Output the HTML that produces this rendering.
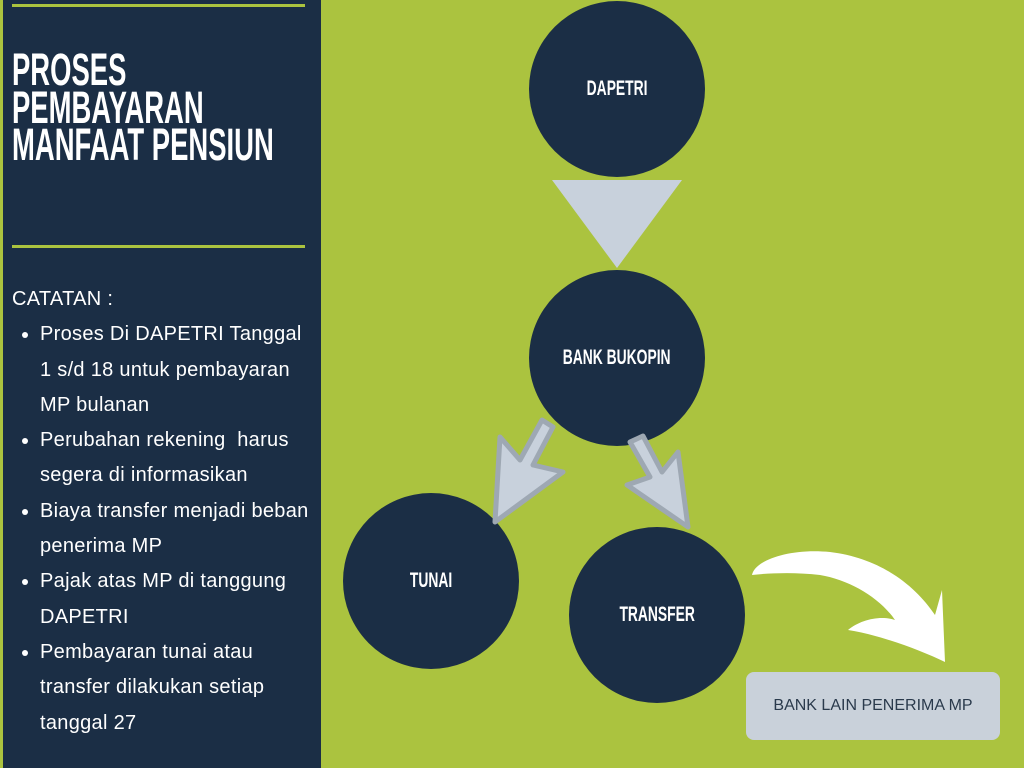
<!DOCTYPE html>
<html><head><meta charset="utf-8"><style>
body{margin:0;width:1024px;height:768px;overflow:hidden;background:#abc33f;position:relative;font-family:"Liberation Sans",sans-serif}
#panel{position:absolute;left:3px;top:0;width:318px;height:768px;background:#1b2e45}
.line{position:absolute;left:12px;width:293px;height:3px;background:#abc33f}
#title{position:absolute;left:12px;top:51px;color:#fff;font-family:"Liberation Sans",sans-serif;font-weight:bold;font-size:45px;line-height:37.5px;transform-origin:0 0;transform:scaleX(0.61);white-space:nowrap}
#notes{position:absolute;left:12px;top:282px;color:#fff;font-size:20px;letter-spacing:0.3px;line-height:35.3px}
#notes ul{margin:0;padding-left:28px}
#notes li{width:275px}
.c{position:absolute;width:176px;height:176px;border-radius:50%;background:#1b2e45;color:#fff;display:flex;align-items:center;justify-content:center;font-weight:bold;font-size:21px}
.c span{display:inline-block;transform:scaleX(0.66);white-space:nowrap}
#box{position:absolute;left:746px;top:672px;width:254px;height:68px;background:#c9d1da;border-radius:8px;color:#2a3a4c;font-size:16px;display:flex;align-items:center;justify-content:center}
</style></head><body>
<div id="panel"></div>
<div class="line" style="top:4px"></div>
<div class="line" style="top:245px"></div>
<div id="title">PROSES<br>PEMBAYARAN<br>MANFAAT PENSIUN</div>
<div id="notes">CATATAN :
<ul>
<li>Proses Di DAPETRI Tanggal 1 s/d 18 untuk pembayaran MP bulanan</li>
<li>Perubahan rekening&nbsp; harus segera di informasikan</li>
<li>Biaya transfer menjadi beban penerima MP</li>
<li>Pajak atas MP di tanggung DAPETRI</li>
<li>Pembayaran tunai atau transfer dilakukan setiap tanggal 27</li>
</ul></div>
<div class="c" style="left:529px;top:1px"><span>DAPETRI</span></div>
<div class="c" style="left:529px;top:270px"><span>BANK BUKOPIN</span></div>
<div class="c" style="left:343px;top:493px"><span>TUNAI</span></div>
<div class="c" style="left:569px;top:527px"><span>TRANSFER</span></div>
<svg width="1024" height="768" style="position:absolute;left:0;top:0">
<polygon points="552,180 682,180 617,268" fill="#c8d1dc"/>
<polygon points="542,420 553,427 533,465 563,472 495,522 500,437 520,460" fill="#c8d1dc" stroke="#9ea8b3" stroke-width="5" stroke-linejoin="round"/>
<polygon points="630,442 643,436 662,472 678,452 688,527 627,485 650,477" fill="#c8d1dc" stroke="#9ea8b3" stroke-width="5" stroke-linejoin="round"/>
<path d="M752,575 C755,560 790,548 830,552 C880,558 915,585 935,615 L942,590 L945,662 C920,650 880,635 848,630 C860,620 880,615 895,620 C880,598 850,580 820,575 C795,572 770,573 752,575 Z" fill="#fff"/>
</svg>
<div id="box">BANK LAIN PENERIMA MP</div>
</body></html>
